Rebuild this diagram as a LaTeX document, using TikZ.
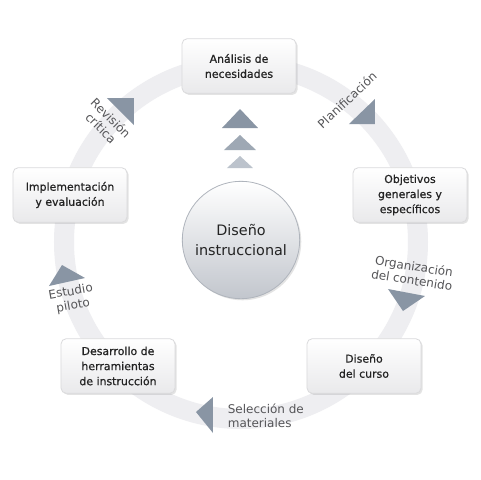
\documentclass[tikz,border=0pt]{standalone}
\usepackage{fontspec}
\setmainfont{DejaVu Sans}
\newfontfamily\stepfont[FakeBold=0.7]{DejaVu Sans}
\usetikzlibrary{shadows}

\definecolor{ringgray}{RGB}{238,238,241}
\definecolor{boxline}{RGB}{218,218,220}
\definecolor{boxbottom}{RGB}{233,233,235}
\definecolor{boxtext}{RGB}{35,35,35}
\definecolor{hubline}{RGB}{175,180,188}
\definecolor{hubbottom}{RGB}{194,198,205}
\definecolor{labelgray}{RGB}{85,85,88}
\definecolor{tipgray}{RGB}{137,149,164}
\definecolor{tipmid}{RGB}{158,168,180}
\definecolor{tiplight}{RGB}{188,195,204}

\begin{document}
\begin{tikzpicture}[x=0.75pt,y=-0.75pt]
\tikzstyle{every path}=[line width=0.6pt]

\edef\boxwidth{85.5pt}
\edef\boxheight{41pt}
\tikzstyle{stepbox}=[draw=boxline,rounded corners=4pt,top color=white,bottom color=boxbottom,
minimum width=\boxwidth,minimum height=\boxheight,align=center,text=boxtext,
font=\stepfont\fontsize{8.2}{11.3}\selectfont,
drop shadow={opacity=0.22,shadow xshift=1.2pt,shadow yshift=-1.2pt}]
\tikzstyle{hub}=[circle,draw=hubline,top color=white,bottom color=hubbottom,
minimum size=88pt,inner sep=0pt,align=center,text=boxtext,
font=\fontsize{10.8}{14.3}\selectfont,
drop shadow={opacity=0.22,shadow xshift=1.2pt,shadow yshift=-1.2pt}]
\tikzstyle{phase}=[text=labelgray,align=center,font=\fontsize{9}{10.5}\selectfont]

%% Page and ring
\fill[white] (0,0) rectangle (480,480);
\useasboundingbox (0,0) rectangle (480,480);
\draw[ringgray,line width=15pt] (241,242) circle (177);

%% Tips on the ring
\fill[tipgray] (107,98) -- (134,98) -- (134,125) -- cycle;
\fill[tipgray] (349,124) -- (375,124) -- (375,99) -- cycle;
\fill[tipgray] (388,289) -- (425,296) -- (403,311) -- cycle;
\fill[tipgray] (196,412) -- (213,397) -- (213,433) -- cycle;
\fill[tipgray] (49,286) -- (62,265) -- (85,278) -- cycle;

%% Tips above the hub
\fill[tipgray] (222,128) -- (240,109) -- (258,128) -- cycle;
\fill[tipmid] (224,150) -- (240,135) -- (256,150) -- cycle;
\fill[tiplight] (227,168) -- (240,156) -- (253,168) -- cycle;

%% Steps
\node[stepbox] (analisis) at (239,66) {Análisis de\\necesidades};
\node[stepbox] (objetivos) at (410,195) {Objetivos\\generales y\\específicos};
\node[stepbox] (curso) at (364,366) {Diseño\\del curso};
\node[stepbox] (desarrollo) at (118,366) {Desarrollo de\\herramientas\\de instrucción};
\node[stepbox] (implementacion) at (70,195) {Implementación\\y evaluación};

%% Hub
\node[hub] (hub) at (241,240) {Diseño\\instruccional};

%% Phases
\node[phase,rotate=43] (planificacion) at (347,100) {Planificación};
\node[phase,rotate=-45] (revision) at (106,123) {Revisión\\crítica};
\node[phase,rotate=-9] (organizacion) at (413,273) {Organización\\del contenido};
\node[phase,rotate=10] (estudio) at (72,299) {Estudio\\piloto};
\node[phase,anchor=west,align=left] (seleccion) at (223,416) {Selección de\\materiales};
\end{tikzpicture}
\end{document}
